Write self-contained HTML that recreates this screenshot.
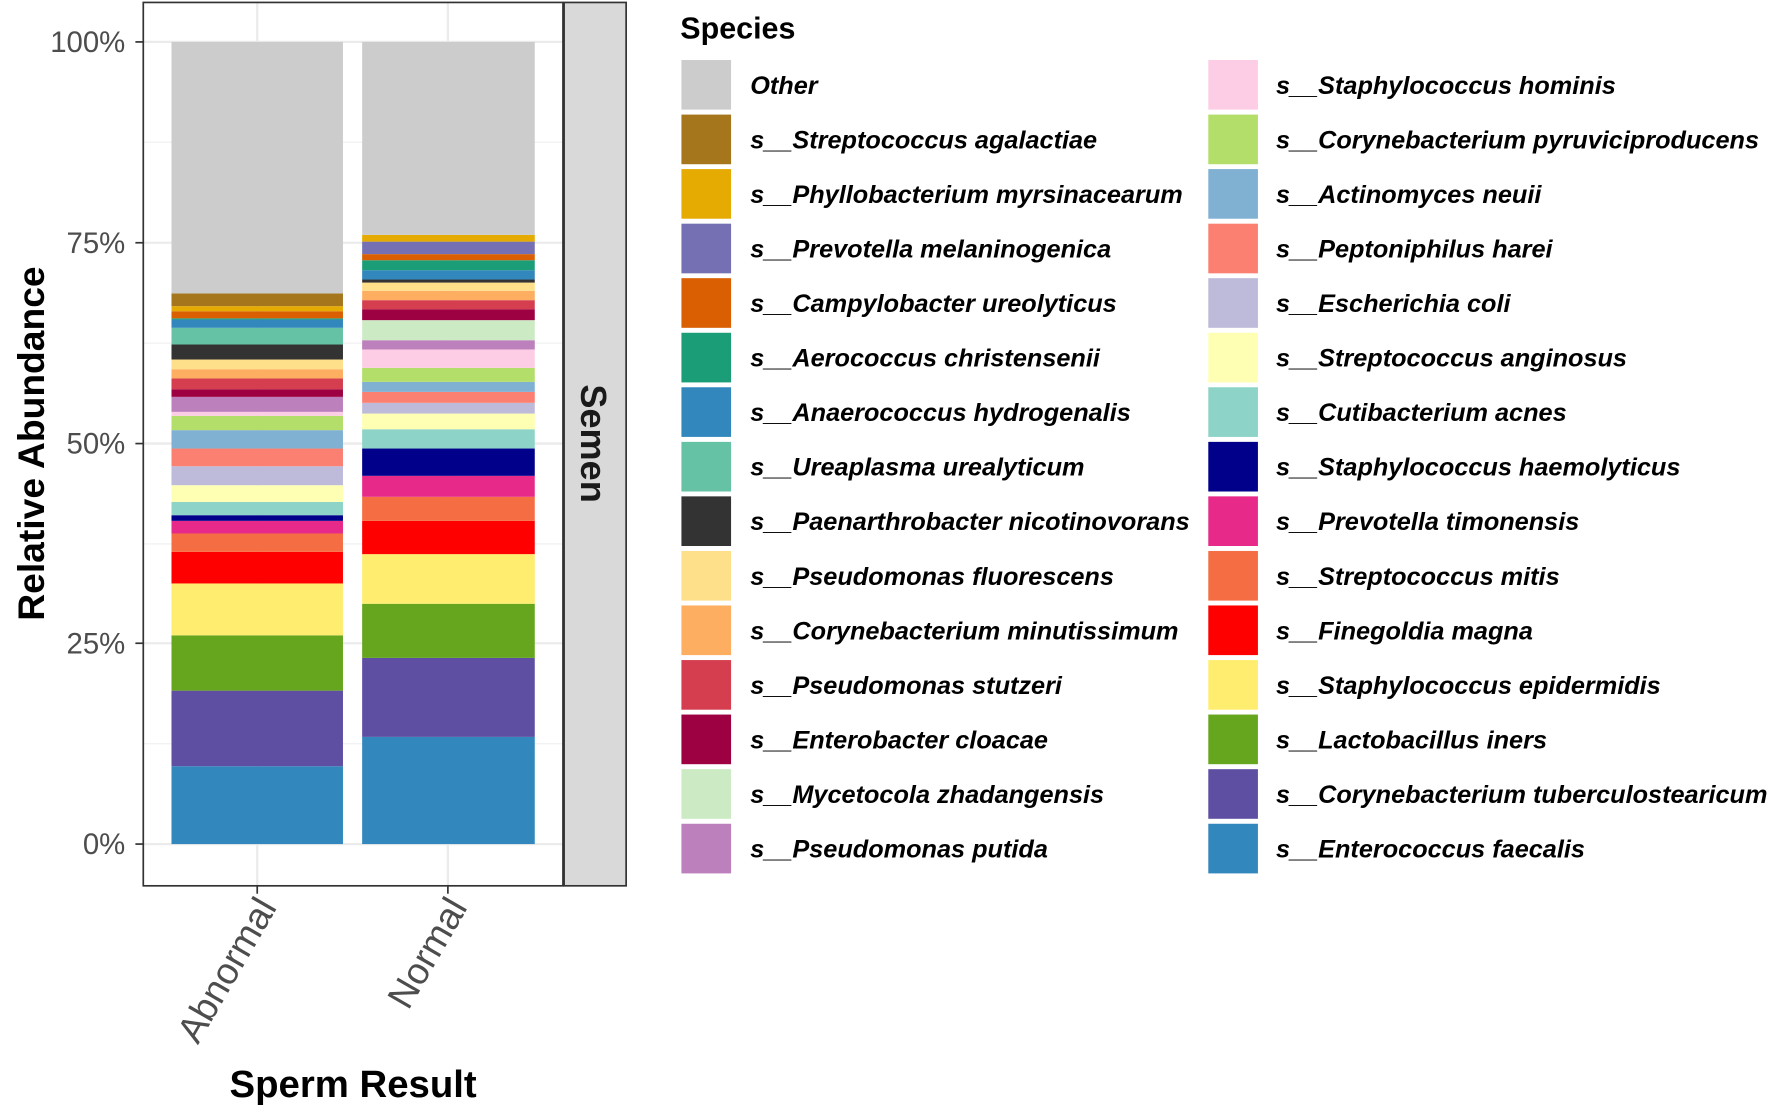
<!DOCTYPE html>
<html><head><meta charset="utf-8"><style>html,body{margin:0;padding:0;background:#fff;}svg{display:block}</style></head>
<body>
<svg width="1769" height="1106" viewBox="0 0 1568 980" xmlns="http://www.w3.org/2000/svg" font-family="Liberation Sans, sans-serif">
<rect width="1568" height="980" fill="#fff"/>
<g stroke="#f2f2f2" stroke-width="1.2">
<line x1="127" x2="499" y1="659" y2="659"/><line x1="127" x2="499" y1="482" y2="482"/><line x1="127" x2="499" y1="304" y2="304"/><line x1="127" x2="499" y1="126" y2="126"/>
</g>
<g stroke="#ebebeb" stroke-width="2">
<line x1="127" x2="499" y1="748" y2="748"/><line x1="127" x2="499" y1="570" y2="570"/><line x1="127" x2="499" y1="393" y2="393"/><line x1="127" x2="499" y1="215" y2="215"/><line x1="127" x2="499" y1="37" y2="37"/>
<line x1="228" x2="228" y1="2" y2="785"/><line x1="397" x2="397" y1="2" y2="785"/>
</g>
<g id="bars">
<rect x="152" width="152" y="679" height="69" fill="#3288bd"/>
<rect x="152" width="152" y="612" height="67" fill="#5e4fa2"/>
<rect x="152" width="152" y="563" height="49" fill="#66a61e"/>
<rect x="152" width="152" y="517" height="46" fill="#ffed6f"/>
<rect x="152" width="152" y="489" height="28" fill="#ff0000"/>
<rect x="152" width="152" y="472.7" height="16.3" fill="#f46d43"/>
<rect x="152" width="152" y="461.5" height="11.2" fill="#e7298a"/>
<rect x="152" width="152" y="456.5" height="5" fill="#00008b"/>
<rect x="152" width="152" y="444.7" height="11.8" fill="#8dd3c7"/>
<rect x="152" width="152" y="429.9" height="14.8" fill="#ffffb3"/>
<rect x="152" width="152" y="413.1" height="16.8" fill="#bebada"/>
<rect x="152" width="152" y="397.4" height="15.7" fill="#fb8072"/>
<rect x="152" width="152" y="381.1" height="16.3" fill="#80b1d3"/>
<rect x="152" width="152" y="368.4" height="12.7" fill="#b3de69"/>
<rect x="152" width="152" y="364.9" height="3.5" fill="#fccde5"/>
<rect x="152" width="152" y="351.6" height="13.3" fill="#bc80bd"/>
<rect x="152" width="152" y="344.8" height="6.8" fill="#9e0142"/>
<rect x="152" width="152" y="335.3" height="9.5" fill="#d53e4f"/>
<rect x="152" width="152" y="327.1" height="8.2" fill="#fdae61"/>
<rect x="152" width="152" y="318.5" height="8.6" fill="#fee08b"/>
<rect x="152" width="152" y="305.2" height="13.3" fill="#333333"/>
<rect x="152" width="152" y="290.4" height="14.8" fill="#66c2a5"/>
<rect x="152" width="152" y="283" height="7.4" fill="#3288bd"/>
<rect x="152" width="152" y="282" height="1" fill="#1b9e77"/>
<rect x="152" width="152" y="275.7" height="6.3" fill="#d95f02"/>
<rect x="152" width="152" y="271.2" height="4.5" fill="#e6ab02"/>
<rect x="152" width="152" y="260" height="11.2" fill="#a6761d"/>
<rect x="152" width="152" y="37" height="223" fill="#cccccc"/>
<rect x="321" width="153" y="653" height="95" fill="#3288bd"/>
<rect x="321" width="153" y="583" height="70" fill="#5e4fa2"/>
<rect x="321" width="153" y="535" height="48" fill="#66a61e"/>
<rect x="321" width="153" y="491" height="44" fill="#ffed6f"/>
<rect x="321" width="153" y="461.5" height="29.5" fill="#ff0000"/>
<rect x="321" width="153" y="440.2" height="21.3" fill="#f46d43"/>
<rect x="321" width="153" y="421.6" height="18.6" fill="#e7298a"/>
<rect x="321" width="153" y="397.4" height="24.2" fill="#00008b"/>
<rect x="321" width="153" y="380.3" height="17.1" fill="#8dd3c7"/>
<rect x="321" width="153" y="366.4" height="13.9" fill="#ffffb3"/>
<rect x="321" width="153" y="356.9" height="9.5" fill="#bebada"/>
<rect x="321" width="153" y="347.2" height="9.7" fill="#fb8072"/>
<rect x="321" width="153" y="338.3" height="8.9" fill="#80b1d3"/>
<rect x="321" width="153" y="325.9" height="12.4" fill="#b3de69"/>
<rect x="321" width="153" y="309.6" height="16.3" fill="#fccde5"/>
<rect x="321" width="153" y="301.4" height="8.2" fill="#bc80bd"/>
<rect x="321" width="153" y="283.6" height="17.8" fill="#ccebc5"/>
<rect x="321" width="153" y="273.9" height="9.7" fill="#9e0142"/>
<rect x="321" width="153" y="265.9" height="8" fill="#d53e4f"/>
<rect x="321" width="153" y="257.6" height="8.3" fill="#fdae61"/>
<rect x="321" width="153" y="250.3" height="7.3" fill="#fee08b"/>
<rect x="321" width="153" y="247.6" height="2.7" fill="#333333"/>
<rect x="321" width="153" y="239.3" height="8.3" fill="#3288bd"/>
<rect x="321" width="153" y="230.5" height="8.8" fill="#1b9e77"/>
<rect x="321" width="153" y="225.1" height="5.4" fill="#d95f02"/>
<rect x="321" width="153" y="214" height="11.1" fill="#7570b3"/>
<rect x="321" width="153" y="208" height="6" fill="#e6ab02"/>
<rect x="321" width="153" y="37" height="171" fill="#cccccc"/>
</g>
<rect x="127" y="2" width="372" height="783" fill="none" stroke="#333" stroke-width="1.5"/>
<rect x="500" y="2" width="55" height="783" fill="#d9d9d9" stroke="#333" stroke-width="1.5"/>
<text transform="translate(515,393) rotate(90)" text-anchor="middle" font-size="32" font-weight="bold" fill="#1a1a1a">Semen</text>
<g stroke="#333" stroke-width="1.5">
<line x1="120" x2="127" y1="748" y2="748"/><line x1="120" x2="127" y1="570" y2="570"/><line x1="120" x2="127" y1="393" y2="393"/><line x1="120" x2="127" y1="215" y2="215"/><line x1="120" x2="127" y1="37" y2="37"/>
<line x1="228" x2="228" y1="785" y2="792"/><line x1="397" x2="397" y1="785" y2="792"/>
</g>
<g font-size="26" fill="#4d4d4d" text-anchor="end">
<text x="111" y="757">0%</text><text x="111" y="579">25%</text><text x="111" y="402">50%</text><text x="111" y="224">75%</text><text x="111" y="46">100%</text>
</g>
<g font-size="33" fill="#4d4d4d" text-anchor="end">
<text transform="translate(246,804) rotate(-60)">Abnormal</text>
<text transform="translate(415,804) rotate(-60)">Normal</text>
</g>
<text transform="translate(39,393) rotate(-90)" text-anchor="middle" font-size="33" font-weight="bold" fill="#000">Relative Abundance</text>
<text x="313" y="972" text-anchor="middle" font-size="34" font-weight="bold" fill="#000">Sperm Result</text>
<text x="603" y="34" font-size="27" font-weight="bold" fill="#000">Species</text>
<g font-size="22.4" font-weight="bold" font-style="italic" fill="#000">
<rect x="604" y="53" width="44" height="44" fill="#cccccc"/><text x="665" y="83">Other</text>
<rect x="604" y="101.4" width="44" height="44" fill="#a6761d"/><text x="665" y="131.4">s__Streptococcus agalactiae</text>
<rect x="604" y="149.7" width="44" height="44" fill="#e6ab02"/><text x="665" y="179.7">s__Phyllobacterium myrsinacearum</text>
<rect x="604" y="198.1" width="44" height="44" fill="#7570b3"/><text x="665" y="228.1">s__Prevotella melaninogenica</text>
<rect x="604" y="246.4" width="44" height="44" fill="#d95f02"/><text x="665" y="276.4">s__Campylobacter ureolyticus</text>
<rect x="604" y="294.8" width="44" height="44" fill="#1b9e77"/><text x="665" y="324.8">s__Aerococcus christensenii</text>
<rect x="604" y="343.1" width="44" height="44" fill="#3288bd"/><text x="665" y="373.1">s__Anaerococcus hydrogenalis</text>
<rect x="604" y="391.5" width="44" height="44" fill="#66c2a5"/><text x="665" y="421.5">s__Ureaplasma urealyticum</text>
<rect x="604" y="439.8" width="44" height="44" fill="#333333"/><text x="665" y="469.8">s__Paenarthrobacter nicotinovorans</text>
<rect x="604" y="488.2" width="44" height="44" fill="#fee08b"/><text x="665" y="518.2">s__Pseudomonas fluorescens</text>
<rect x="604" y="536.5" width="44" height="44" fill="#fdae61"/><text x="665" y="566.5">s__Corynebacterium minutissimum</text>
<rect x="604" y="584.9" width="44" height="44" fill="#d53e4f"/><text x="665" y="614.9">s__Pseudomonas stutzeri</text>
<rect x="604" y="633.2" width="44" height="44" fill="#9e0142"/><text x="665" y="663.2">s__Enterobacter cloacae</text>
<rect x="604" y="681.6" width="44" height="44" fill="#ccebc5"/><text x="665" y="711.6">s__Mycetocola zhadangensis</text>
<rect x="604" y="730" width="44" height="44" fill="#bc80bd"/><text x="665" y="760">s__Pseudomonas putida</text>
<rect x="1071" y="53" width="44" height="44" fill="#fccde5"/><text x="1131" y="83">s__Staphylococcus hominis</text>
<rect x="1071" y="101.4" width="44" height="44" fill="#b3de69"/><text x="1131" y="131.4">s__Corynebacterium pyruviciproducens</text>
<rect x="1071" y="149.7" width="44" height="44" fill="#80b1d3"/><text x="1131" y="179.7">s__Actinomyces neuii</text>
<rect x="1071" y="198.1" width="44" height="44" fill="#fb8072"/><text x="1131" y="228.1">s__Peptoniphilus harei</text>
<rect x="1071" y="246.4" width="44" height="44" fill="#bebada"/><text x="1131" y="276.4">s__Escherichia coli</text>
<rect x="1071" y="294.8" width="44" height="44" fill="#ffffb3"/><text x="1131" y="324.8">s__Streptococcus anginosus</text>
<rect x="1071" y="343.1" width="44" height="44" fill="#8dd3c7"/><text x="1131" y="373.1">s__Cutibacterium acnes</text>
<rect x="1071" y="391.5" width="44" height="44" fill="#00008b"/><text x="1131" y="421.5">s__Staphylococcus haemolyticus</text>
<rect x="1071" y="439.8" width="44" height="44" fill="#e7298a"/><text x="1131" y="469.8">s__Prevotella timonensis</text>
<rect x="1071" y="488.2" width="44" height="44" fill="#f46d43"/><text x="1131" y="518.2">s__Streptococcus mitis</text>
<rect x="1071" y="536.5" width="44" height="44" fill="#ff0000"/><text x="1131" y="566.5">s__Finegoldia magna</text>
<rect x="1071" y="584.9" width="44" height="44" fill="#ffed6f"/><text x="1131" y="614.9">s__Staphylococcus epidermidis</text>
<rect x="1071" y="633.2" width="44" height="44" fill="#66a61e"/><text x="1131" y="663.2">s__Lactobacillus iners</text>
<rect x="1071" y="681.6" width="44" height="44" fill="#5e4fa2"/><text x="1131" y="711.6">s__Corynebacterium tuberculostearicum</text>
<rect x="1071" y="730" width="44" height="44" fill="#3288bd"/><text x="1131" y="760">s__Enterococcus faecalis</text>
</g>
</svg>
</body></html>
